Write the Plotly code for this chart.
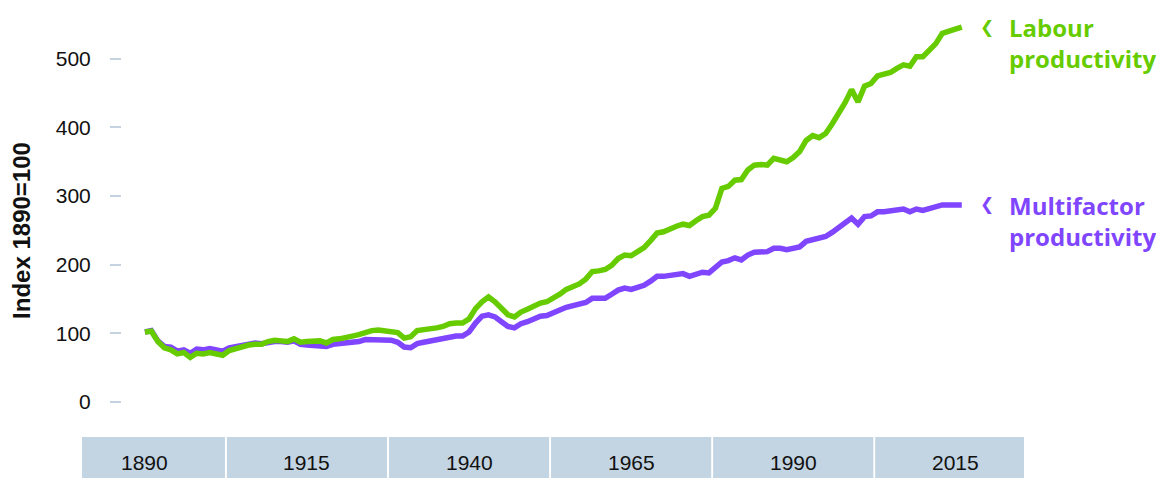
import plotly.graph_objects as go

# anos 1890-2016, índice 1890=100
anos = list(range(1890, 2017))

labour = [
    102, 103, 88, 79, 76, 70, 72, 65, 71, 70,
    72, 69, 68, 75, 78, 80, 83, 84, 84, 88,
    90, 89, 88, 92, 87, 88, 89, 89, 86, 91,
    92, 95, 96, 98, 102, 104, 105, 104, 104, 101,
    93, 95, 104, 105, 106, 108, 110, 114, 115, 115,
    121, 136, 146, 153, 146, 137, 127, 124, 131, 135,
    140, 144, 146, 151, 157, 164, 168, 172, 179, 190,
    191, 193, 199, 209, 214, 213, 219, 225, 235, 246,
    248, 253, 256, 259, 257, 264, 270, 272, 282, 311,
    314, 323, 324, 338, 345, 346, 345, 355, 352, 350,
    356, 365, 381, 388, 385, 391, 405, 420, 436, 455,
    437, 460, 464, 475, 478, 480, 486, 491, 489, 503,
    503, 512, 522, 537, 539, 543, 546,
]

multifactor = [
    102, 104, 89, 81, 80, 74, 76, 71, 77, 76,
    78, 75, 74, 79, 81, 83, 85, 86, 85, 87,
    88, 88, 87, 89, 84, 83, 83, 83, 81, 84,
    85, 86, 87, 88, 91, 91, 91, 90, 90, 87,
    80, 79, 85, 87, 89, 91, 93, 95, 96, 96,
    102, 115, 125, 127, 124, 117, 110, 108, 114, 117,
    122, 125, 126, 129, 134, 138, 140, 141, 145, 151,
    151, 151, 157, 163, 166, 164, 167, 170, 176, 183,
    183, 185, 185, 187, 183, 186, 189, 188, 195, 204,
    206, 210, 207, 214, 218, 219, 219, 224, 224, 222,
    223, 226, 234, 236, 238, 241, 247, 254, 261, 268,
    259, 270, 271, 277, 277, 278, 279, 281, 277, 281,
    279, 282, 284, 287, 287, 287, 287,
]

anos_eixo = [1890, 1915, 1940, 1965, 1990, 2015]
rotulos_eixo = ['1890', '1915', '1940', '1965', '1990', '2015']

VERDE = '#66cc00'
ROXO = '#7f45ff'
CAIXA = '#c3d4e2'
X_RANGE = [1880.3, 2025.6]

fig = go.Figure()
fig.add_trace(go.Scatter(x=anos, y=multifactor, mode='lines',
                         line=dict(color=ROXO, width=5.5), name='Multifactor productivity'))
fig.add_trace(go.Scatter(x=anos, y=labour, mode='lines',
                         line=dict(color=VERDE, width=5.5), name='Labour productivity'))

# caixas do eixo x
for ano, rot in zip(anos_eixo, rotulos_eixo):
    x0 = max(ano - 12.5 + 0.15, X_RANGE[0])
    x1 = min(ano + 12.5 - 0.15, X_RANGE[1])
    fig.add_shape(type='rect', xref='x', yref='paper', x0=x0, x1=x1, y0=-0.12, y1=0,
                  fillcolor=CAIXA, line_width=0, layer='below')
    fig.add_annotation(x=ano, y=-0.06, xref='x', yref='paper', text=rot, showarrow=False,
                       yanchor='middle',
                       font=dict(size=21, color='#111111', family='Arial, Liberation Sans'))

# rótulos das séries
for serie, texto, cor in [(labour, 'Labour<br>productivity', VERDE),
                          (multifactor, 'Multifactor<br>productivity', ROXO)]:
    fig.add_annotation(x=2019.9, y=serie[-1], xref='x', yref='y', text='❮',
                       showarrow=False, yanchor='middle', yshift=0,
                       font=dict(size=17, color=cor, family='DejaVu Sans'))
    fig.add_annotation(x=2023.0, y=serie[-1], xref='x', yref='y', text=f'<b>{texto}</b>',
                       xanchor='left', yanchor='middle', yshift=-16, align='left',
                       showarrow=False, font=dict(size=24, color=cor, family='Open Sans'))

fig.add_annotation(x=-0.0637, y=0.485, xref='paper', yref='paper', text='<b>Index 1890=100</b>',
                   xanchor='center', yanchor='middle', textangle=-90, showarrow=False,
                   font=dict(size=24, color='#111111', family='Arial, Liberation Sans'))

# a página tem margem de 8px no body, por isso a figura é 8px menor
fig.update_layout(
    width=1156, height=470,
    margin=dict(l=74, r=140, t=2, b=41),
    plot_bgcolor='white', paper_bgcolor='white',
    showlegend=False,
    font=dict(family='Arial, Liberation Sans', color='#111111'),
    xaxis=dict(range=X_RANGE, showticklabels=False, showgrid=False, zeroline=False,
               showline=False, ticks=''),
    yaxis=dict(range=[-51, 571], anchor='free', position=0.0414, tickvals=[0, 100, 200, 300, 400, 500],
               ticks='outside', ticklen=11, tickwidth=2, tickcolor='#c5d3e0',
               ticklabelstandoff=15, tickfont=dict(size=21, color='#111111'),
               showgrid=False, zeroline=False, showline=False),
)

fig.write_html('out.html')
